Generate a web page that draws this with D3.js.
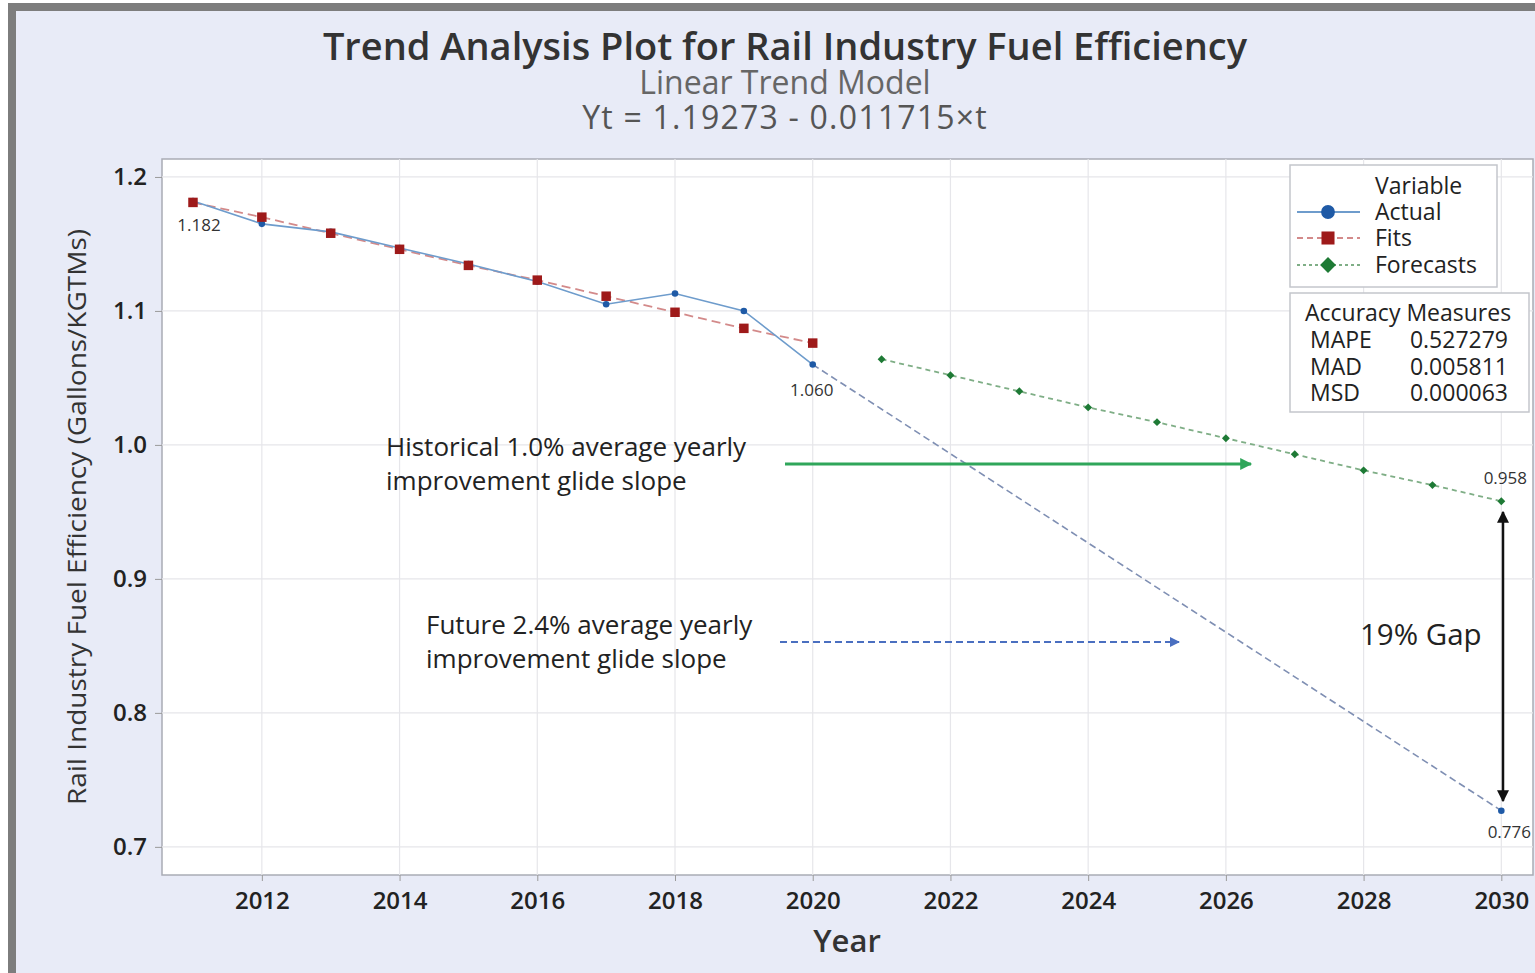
<!DOCTYPE html>
<html>
<head>
<meta charset="utf-8">
<script src="https://cdn.jsdelivr.net/npm/d3@7"></script>
<style>
  body { margin: 0; background: #fff; }
  svg { display: block; font-family: "Open Sans", "Noto Sans", sans-serif; }
</style>
</head>
<body>
<script>
// fitted period
const histYears = [2011, 2012, 2013, 2014, 2015, 2016, 2017, 2018, 2019, 2020]
const actual    = [1.182, 1.165, 1.159, 1.147, 1.135, 1.122, 1.105, 1.113, 1.100, 1.060]
const fits      = [1.181, 1.170, 1.158, 1.146, 1.134, 1.123, 1.111, 1.099, 1.087, 1.076]
// forecast period
const foreYears = [2021, 2022, 2023, 2024, 2025, 2026, 2027, 2028, 2029, 2030]
const forecasts = [1.064, 1.052, 1.040, 1.028, 1.017, 1.005, 0.993, 0.981, 0.970, 0.958]
// the hand drawn "future" glide slope
const futureYears = [2020, 2030]
const future      = [1.060, 0.727]

const xTicks = [2012, 2014, 2016, 2018, 2020, 2022, 2024, 2026, 2028, 2030]
const yTicks = [0.7, 0.8, 0.9, 1.0, 1.1, 1.2]
const accNames  = ["MAPE", "MAD", "MSD"]
const accValues = ["0.527279", "0.005811", "0.000063"]

const W = 1535, H = 973
const plot = {left: 162, top: 159, right: 1533, bottom: 875}

const svg = d3.select("body").append("svg").attr("width", W).attr("height", H)

// frame
svg.append("rect").attr("x", 8).attr("y", 3).attr("width", W - 8).attr("height", H - 3).attr("fill", "#7d7d7d")
svg.append("rect").attr("x", 16).attr("y", 11).attr("width", W - 16).attr("height", H - 11).attr("fill", "#e8ebf7")

const x = d3.scaleLinear().domain([2010.55, 2030.46]).range([plot.left, plot.right])
const y = d3.scaleLinear().domain([0.679, 1.2134]).range([plot.bottom, plot.top])

svg.append("rect")
    .attr("x", plot.left).attr("y", plot.top)
    .attr("width", plot.right - plot.left).attr("height", plot.bottom - plot.top)
    .attr("fill", "#fff").attr("stroke", "#a9acb5").attr("stroke-width", 1.5)

// grid
svg.append("g").selectAll("line").data(xTicks).join("line")
    .attr("x1", d => x(d)).attr("x2", d => x(d))
    .attr("y1", plot.top).attr("y2", plot.bottom)
    .attr("stroke", "#e6e6ea").attr("stroke-width", 1.2)
svg.append("g").selectAll("line").data(yTicks).join("line")
    .attr("y1", d => y(d)).attr("y2", d => y(d))
    .attr("x1", plot.left).attr("x2", plot.right)
    .attr("stroke", "#e6e6ea").attr("stroke-width", 1.2)

// axes
const xAxis = svg.append("g").attr("transform", `translate(0,${plot.bottom})`)
    .call(d3.axisBottom(x).tickValues(xTicks).tickFormat(d3.format("d")).tickSize(6).tickPadding(6))
const yAxis = svg.append("g").attr("transform", `translate(${plot.left},0)`)
    .call(d3.axisLeft(y).tickValues(yTicks).tickFormat(d3.format(".1f")).tickSize(7).tickPadding(8))
for (const ax of [xAxis, yAxis]) {
    ax.select(".domain").remove()
    ax.selectAll(".tick line").attr("stroke", "#9a9a9a")
    ax.selectAll(".tick text").attr("fill", "#222").attr("font-size", 24)
        .attr("font-weight", 600).attr("font-family", "Open Sans")
}
xAxis.selectAll(".tick text").attr("dy", "0.9em")
yAxis.selectAll(".tick text").attr("dy", "0.3em")

// titles
const titles = [
    {t: "Trend Analysis Plot for Rail Industry Fuel Efficiency", y: 60, size: 38, w: 600, c: "#333"},
    {t: "Linear Trend Model", y: 94, size: 32, w: 400, c: "#666"},
    {t: "Yt = 1.19273 - 0.011715×t", y: 129, size: 32, w: 400, c: "#555", ls: 1.2}
]
svg.append("g").selectAll("text").data(titles).join("text")
    .attr("x", 785).attr("y", d => d.y).attr("text-anchor", "middle")
    .attr("font-size", d => d.size).attr("font-weight", d => d.w).attr("fill", d => d.c)
    .attr("letter-spacing", d => d.ls || 0)
    .text(d => d.t)

svg.append("text").attr("x", 847).attr("y", 952).attr("text-anchor", "middle")
    .attr("font-size", 31).attr("font-weight", 600).attr("fill", "#333").text("Year")
svg.append("text").attr("transform", "translate(86,517) rotate(-90)").attr("text-anchor", "middle")
    .attr("font-size", 26).attr("fill", "#333")
    .attr("textLength", 576).attr("lengthAdjust", "spacingAndGlyphs")
    .text("Rail Industry Fuel Efficiency (Gallons/KGTMs)")

// series
const line = d3.line().x(d => x(d[0])).y(d => y(d[1]))
const zip = (a, b) => a.map((v, i) => [v, b[i]])

svg.append("path").datum(zip(futureYears, future)).attr("d", line)
    .attr("fill", "none").attr("stroke", "#7f8fb3").attr("stroke-width", 1.6).attr("stroke-dasharray", "7,4")
svg.append("path").datum(zip(histYears, fits)).attr("d", line)
    .attr("fill", "none").attr("stroke", "#d38a8a").attr("stroke-width", 1.8).attr("stroke-dasharray", "9,5")
svg.append("path").datum(zip(histYears, actual)).attr("d", line)
    .attr("fill", "none").attr("stroke", "#6e9ccc").attr("stroke-width", 1.6)
svg.append("path").datum(zip(foreYears, forecasts)).attr("d", line)
    .attr("fill", "none").attr("stroke", "#7fae86").attr("stroke-width", 1.8).attr("stroke-dasharray", "5,4")

const sym = (type, size) => d3.symbol().type(type).size(size)()
svg.append("g").selectAll("path").data(zip(histYears, actual)).join("path")
    .attr("transform", d => `translate(${x(d[0])},${y(d[1])})`)
    .attr("d", sym(d3.symbolCircle, 34)).attr("fill", "#1f5aa6")
svg.append("g").selectAll("path").data(zip(histYears, fits)).join("path")
    .attr("transform", d => `translate(${x(d[0])},${y(d[1])})`)
    .attr("d", sym(d3.symbolSquare, 90)).attr("fill", "#9e1a1a")
svg.append("g").selectAll("path").data(zip(foreYears, forecasts)).join("path")
    .attr("transform", d => `translate(${x(d[0])},${y(d[1])})`)
    .attr("d", sym(d3.symbolDiamond2, 40)).attr("fill", "#1e7a35")
svg.append("path").attr("transform", `translate(${x(futureYears[1])},${y(future[1])})`)
    .attr("d", sym(d3.symbolCircle, 34)).attr("fill", "#1f5aa6")

// point labels
const ptLabels = [
    {t: "1.182", x: 2011, v: actual[0], dx: 6, dy: 30},
    {t: "1.060", x: 2020, v: actual[9], dx: -1, dy: 31},
    {t: "0.958", x: 2030, v: forecasts[9], dx: 4, dy: -17},
    {t: "0.776", x: 2030, v: future[1], dx: 8, dy: 27}
]
svg.append("g").selectAll("text").data(ptLabels).join("text")
    .attr("x", d => x(d.x) + d.dx).attr("y", d => y(d.v) + d.dy)
    .attr("text-anchor", "middle").attr("font-size", 17).attr("fill", "#333").text(d => d.t)

// arrows
const defs = svg.append("defs")
const marker = (id, color, w, h) => defs.append("marker").attr("id", id)
    .attr("viewBox", "0 0 10 10").attr("refX", 9).attr("refY", 5)
    .attr("markerWidth", w).attr("markerHeight", h).attr("markerUnits", "userSpaceOnUse")
    .attr("orient", "auto-start-reverse")
    .append("path").attr("d", "M0,0L10,5L0,10z").attr("fill", color)
marker("ag", "#2fa65a", 14, 12)
marker("ab", "#4a6fc0", 12, 10)
marker("ak", "#111", 12, 14)

svg.append("line").attr("x1", 785).attr("x2", 1251).attr("y1", 464).attr("y2", 464)
    .attr("stroke", "#2fa65a").attr("stroke-width", 3).attr("marker-end", "url(#ag)")
svg.append("line").attr("x1", 780).attr("x2", 1179).attr("y1", 642).attr("y2", 642)
    .attr("stroke", "#4a6fc0").attr("stroke-width", 2.2).attr("stroke-dasharray", "7,4")
    .attr("marker-end", "url(#ab)")
svg.append("line").attr("x1", 1503).attr("x2", 1503).attr("y1", 512).attr("y2", 801)
    .attr("stroke", "#111").attr("stroke-width", 2.5)
    .attr("marker-start", "url(#ak)").attr("marker-end", "url(#ak)")

// annotations
const notes = [
    {t: "Historical 1.0% average yearly", x: 386, y: 456},
    {t: "improvement glide slope", x: 386, y: 490},
    {t: "Future 2.4% average yearly", x: 426, y: 634},
    {t: "improvement glide slope", x: 426, y: 668}
]
svg.append("g").selectAll("text").data(notes).join("text")
    .attr("x", d => d.x).attr("y", d => d.y).attr("font-size", 26).attr("fill", "#222").text(d => d.t)
svg.append("text").attr("x", 1360).attr("y", 645).attr("font-size", 29.5).attr("fill", "#222").text("19% Gap")

// legend
const lg = svg.append("g")
lg.append("rect").attr("x", 1290).attr("y", 165).attr("width", 207).attr("height", 122)
    .attr("fill", "#fff").attr("stroke", "#c4c6cc").attr("stroke-width", 1.5)
lg.append("text").attr("x", 1375).attr("y", 194).attr("font-size", 23).attr("fill", "#222").text("Variable")
const legendItems = [
    {t: "Actual", y: 212, color: "#6e9ccc", dash: null, mk: d3.symbolCircle, sz: 150, fill: "#1f5aa6"},
    {t: "Fits", y: 238, color: "#d38a8a", dash: "6,4", mk: d3.symbolSquare, sz: 170, fill: "#9e1a1a"},
    {t: "Forecasts", y: 265, color: "#7fae86", dash: "3,3", mk: d3.symbolDiamond2, sz: 160, fill: "#1e7a35"}
]
const li = lg.selectAll("g.item").data(legendItems).join("g").attr("class", "item")
li.append("line").attr("x1", 1297).attr("x2", 1360).attr("y1", d => d.y).attr("y2", d => d.y)
    .attr("stroke", d => d.color).attr("stroke-width", 1.8).attr("stroke-dasharray", d => d.dash)
li.append("path").attr("transform", d => `translate(1328,${d.y})`)
    .attr("d", d => sym(d.mk, d.sz)).attr("fill", d => d.fill)
li.append("text").attr("x", 1375).attr("y", d => d.y + 8).attr("font-size", 23).attr("fill", "#222").text(d => d.t)

// accuracy box
const ab = svg.append("g")
ab.append("rect").attr("x", 1290).attr("y", 293).attr("width", 239).attr("height", 119)
    .attr("fill", "#fff").attr("stroke", "#c4c6cc").attr("stroke-width", 1.5)
ab.append("text").attr("x", 1305).attr("y", 321).attr("font-size", 23).attr("fill", "#222").text("Accuracy Measures")
ab.selectAll("text.n").data(accNames).join("text").attr("class", "n")
    .attr("x", 1310).attr("y", (d, i) => 348 + i * 26.5).attr("font-size", 23).attr("fill", "#222").text(d => d)
ab.selectAll("text.v").data(accValues).join("text").attr("class", "v")
    .attr("x", 1508).attr("y", (d, i) => 348 + i * 26.5).attr("text-anchor", "end")
    .attr("font-size", 23).attr("fill", "#222").text(d => d)
</script>
</body>
</html>
